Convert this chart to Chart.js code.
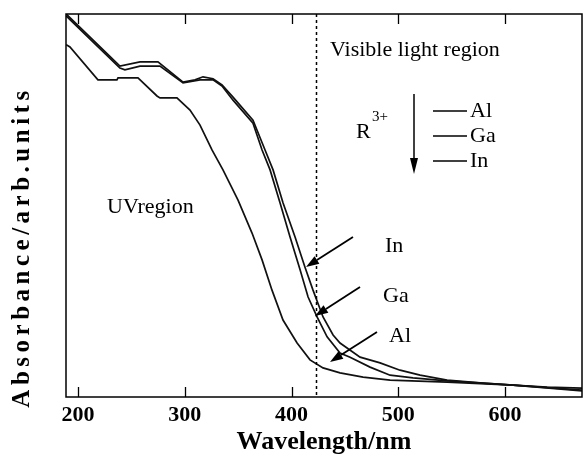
<!DOCTYPE html>
<html><head><meta charset="utf-8">
<script src="https://cdn.jsdelivr.net/npm/chart.js@4/dist/chart.umd.min.js"></script>
<style>html,body{margin:0;padding:0;background:#fff}#wrap{width:583px;height:462px}</style>
</head><body><div id="wrap"><canvas id="c" width="583" height="462"></canvas></div>
<script>
// ---- data (wavelength in nm, absorbance in arbitrary units) ----
const seriesNames = ['Al', 'Ga', 'In'];
const alWavelength = [189, 192.5, 218.7, 236.5, 237.5, 256.2, 274.0, 276.8, 292.7, 304.9, 314.3, 325.5, 335.8, 349.9, 363.0, 372.4, 381.7, 392.0, 405.2, 417.3, 429.5, 445.4, 467.0, 492.3, 545.7, 607.5, 672];
const alAbsorbance = [92.0, 91.4, 82.8, 82.8, 83.3, 83.3, 78.6, 78.1, 78.1, 74.9, 71.0, 64.5, 59.3, 51.4, 42.8, 35.8, 27.9, 20.1, 14.1, 9.7, 7.6, 6.3, 5.2, 4.4, 3.9, 3.1, 1.8];
const gaWavelength = [189, 239.3, 244.0, 258.1, 276.8, 298.4, 314.3, 326.5, 334.9, 345.2, 363.9, 372.4, 379.9, 389.2, 398.6, 408.0, 415.5, 423.9, 433.3, 445.4, 454.8, 473.5, 492.3, 513.8, 545.7, 607.5, 672];
const gaAbsorbance = [99.5, 85.9, 85.4, 86.4, 86.4, 82.0, 82.8, 82.8, 81.2, 77.5, 71.5, 64.5, 59.3, 50.7, 41.8, 33.2, 26.1, 20.9, 15.7, 11.5, 10.4, 7.8, 5.7, 5.0, 4.2, 3.1, 1.6];
const inWavelength = [189, 239.3, 258.1, 274.9, 298.4, 309.6, 317.1, 326.5, 334.9, 345.2, 363.9, 375.2, 382.7, 392.0, 403.3, 412.6, 420.1, 429.5, 438.9, 445.4, 464.2, 482.9, 501.6, 520.4, 545.7, 576.6, 607.5, 639.3, 672];
const inAbsorbance = [100, 86.4, 87.5, 87.5, 82.2, 82.8, 83.6, 83.1, 81.5, 78.3, 72.3, 64.5, 59.3, 50.7, 41.8, 33.9, 27.9, 20.9, 16.2, 14.1, 10.4, 8.9, 7.0, 5.7, 4.4, 3.7, 3.1, 2.6, 2.3];
const xTickValues = [200, 300, 400, 500, 600];
const xMin = 188.8, xMax = 672;
const yMin = 0, yMax = 100;
const visibleBoundary = 423;

function pts(xs, ys) { return xs.map((x, i) => ({ x: x, y: ys[i] })); }

const SERIF = '"Liberation Serif", "Times New Roman", serif';

const decor = {
  id: 'decor',
  afterDatasetsDraw(chart) {
    const ctx = chart.ctx, a = chart.chartArea;
    const xs = chart.scales.x;
    const X = v => xs.getPixelForValue(v);
    ctx.save();
    ctx.strokeStyle = '#000'; ctx.fillStyle = '#000';
    // frame
    ctx.lineWidth = 1.5;
    ctx.strokeRect(a.left, a.top, a.right - a.left, a.bottom - a.top);
    // inward ticks, bottom and top
    ctx.lineWidth = 1.3;
    xTickValues.forEach(v => {
      const px = Math.round(X(v)) + 0.5;
      ctx.beginPath(); ctx.moveTo(px, a.bottom); ctx.lineTo(px, a.bottom - 10); ctx.stroke();
      ctx.beginPath(); ctx.moveTo(px, a.top); ctx.lineTo(px, a.top + 10); ctx.stroke();
    });
    // dashed visible boundary
    ctx.setLineDash([3, 3]); ctx.lineWidth = 1.5;
    const bx = Math.round(X(visibleBoundary)) + 0.5;
    ctx.beginPath(); ctx.moveTo(bx, a.top); ctx.lineTo(bx, a.bottom); ctx.stroke();
    ctx.setLineDash([]);
    // texts
    ctx.font = '22px ' + SERIF; ctx.textBaseline = 'middle'; ctx.textAlign = 'left';
    ctx.fillText('Visible light region', 330, 50);
    ctx.fillText('UVregion', 107, 207);
    ctx.fillText('R', 356, 132);
    ctx.font = '15px ' + SERIF; ctx.fillText('3+', 372, 117);
    ctx.font = '22px ' + SERIF;
    // R3+ arrow
    ctx.lineWidth = 1.5;
    ctx.beginPath(); ctx.moveTo(414, 94); ctx.lineTo(414, 160); ctx.stroke();
    ctx.beginPath(); ctx.moveTo(410, 158); ctx.lineTo(418, 158); ctx.lineTo(414, 174); ctx.closePath(); ctx.fill();
    // legend
    const legY = [111, 136, 161];
    seriesNames.forEach((n, i) => {
      ctx.lineWidth = 1.4;
      ctx.beginPath(); ctx.moveTo(433, legY[i]); ctx.lineTo(467, legY[i]); ctx.stroke();
      ctx.fillText(n, 470, legY[i]);
    });
    // pointing arrows with labels
    const arrows = [
      { t: 'In', lx: 385, ly: 246, x0: 353, y0: 237, x1: 306, y1: 267 },
      { t: 'Ga', lx: 383, ly: 296, x0: 360, y0: 287, x1: 315, y1: 316 },
      { t: 'Al', lx: 389, ly: 336, x0: 377, y0: 332, x1: 330, y1: 362 }
    ];
    arrows.forEach(ar => {
      ctx.fillText(ar.t, ar.lx, ar.ly);
      const ang = Math.atan2(ar.y1 - ar.y0, ar.x1 - ar.x0);
      const hl = 13, hw = 4.5;
      const bx2 = ar.x1 - hl * Math.cos(ang), by2 = ar.y1 - hl * Math.sin(ang);
      ctx.lineWidth = 1.8;
      ctx.beginPath(); ctx.moveTo(ar.x0, ar.y0); ctx.lineTo(bx2, by2); ctx.stroke();
      ctx.beginPath();
      ctx.moveTo(ar.x1, ar.y1);
      ctx.lineTo(bx2 + hw * Math.sin(ang), by2 - hw * Math.cos(ang));
      ctx.lineTo(bx2 - hw * Math.sin(ang), by2 + hw * Math.cos(ang));
      ctx.closePath(); ctx.fill();
    });
    // y axis title
    ctx.save();
    ctx.translate(23, 247); ctx.rotate(-Math.PI / 2);
    ctx.font = 'bold 25px ' + SERIF; ctx.textAlign = 'center'; ctx.textBaseline = 'middle';
    try { ctx.letterSpacing = '4.5px'; } catch (e) {}
    ctx.fillText('Absorbance/arb.units', 0, 0);
    ctx.restore();
    ctx.restore();
  }
};

const lineStyle = { borderColor: '#111', borderWidth: 1.7, pointRadius: 0, tension: 0, fill: false };

new Chart(document.getElementById('c'), {
  type: 'line',
  data: {
    datasets: [
      Object.assign({ label: seriesNames[0], data: pts(alWavelength, alAbsorbance) }, lineStyle),
      Object.assign({ label: seriesNames[1], data: pts(gaWavelength, gaAbsorbance) }, lineStyle),
      Object.assign({ label: seriesNames[2], data: pts(inWavelength, inAbsorbance) }, lineStyle)
    ]
  },
  options: {
    responsive: false, animation: false,
    layout: { padding: { top: 14, right: 1, bottom: 0, left: 0 } },
    plugins: { legend: { display: false }, tooltip: { enabled: false } },
    scales: {
      x: {
        type: 'linear', min: xMin, max: xMax,
        afterBuildTicks: s => { s.ticks = xTickValues.map(v => ({ value: v })); },
        afterFit: s => { s.height = 65; },
        grid: { display: false, drawTicks: false },
        border: { display: false },
        ticks: { padding: 5, color: '#000', font: { family: SERIF, size: 22, weight: 'bold' }, maxRotation: 0 },
        title: { display: true, text: 'Wavelength/nm', color: '#000', font: { family: SERIF, size: 26, weight: 'bold' }, padding: { top: 0, bottom: 4 } }
      },
      y: {
        min: yMin, max: yMax,
        afterFit: s => { s.width = 66; },
        grid: { display: false, drawTicks: false },
        border: { display: false },
        ticks: { display: false }
      }
    }
  },
  plugins: [decor]
});
</script>
</body></html>
